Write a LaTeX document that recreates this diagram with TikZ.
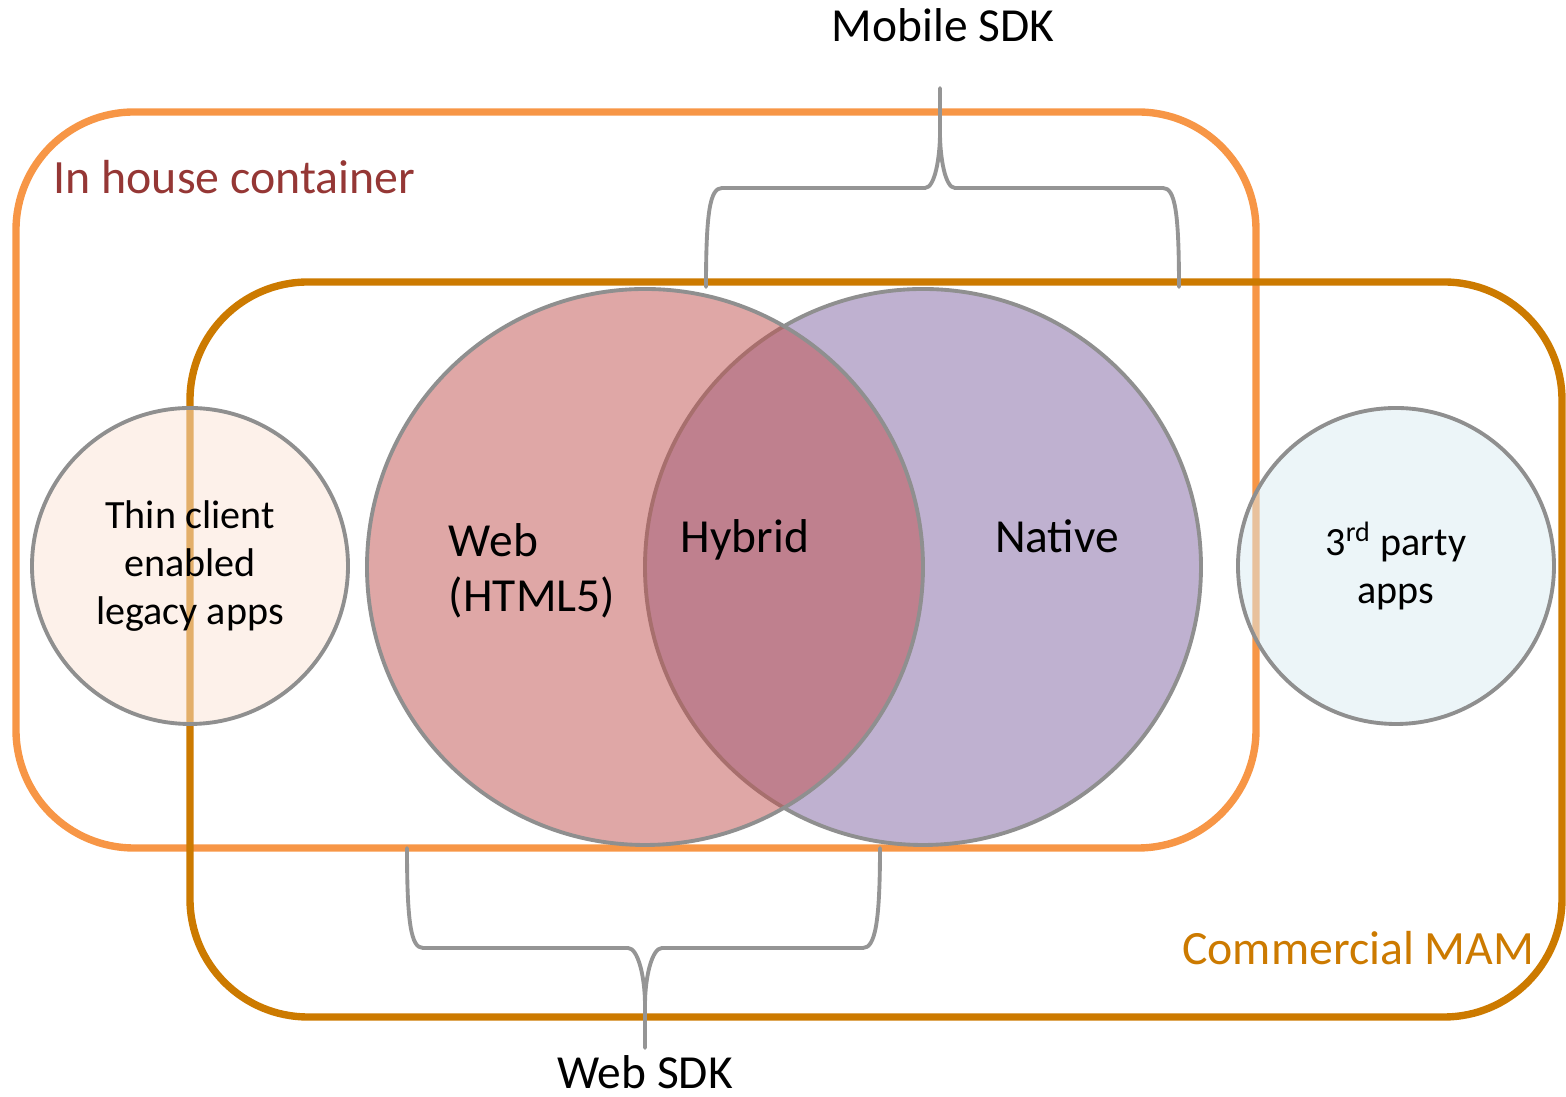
\documentclass[tikz,border=0pt]{standalone}
\usepackage{fontspec}
\setmainfont{Carlito}
\usetikzlibrary{positioning}

\definecolor{houseorange}{HTML}{F79646}
\definecolor{housered}{HTML}{953735}
\definecolor{mamorange}{HTML}{CC7A00}
\definecolor{ringgray}{HTML}{8F8F8F}
\definecolor{bracegray}{HTML}{959595}
\definecolor{webred}{HTML}{C0504D}
\definecolor{nativepurple}{HTML}{8064A2}
\definecolor{thinfill}{HTML}{FBE4D5}
\definecolor{partyfill}{HTML}{DAECF2}

\begin{document}
\begin{tikzpicture}[
    container/.style={line width=2.1pt, rounded corners=1.18cm},
    venn/.style={circle, draw=ringgray, line width=1.1pt, fill opacity=0.5, text opacity=1, draw opacity=1, inner sep=0pt},
    brace/.style={draw=bracegray, line width=1.1pt, line join=round, line cap=round},
    biglabel/.style={font=\fontsize{13.5}{15.6}\selectfont, inner sep=0pt},
    smalllabel/.style={font=\fontsize{11.4}{13.6}\selectfont, align=center, inner sep=0pt},
    boxlabel/.style={font=\fontsize{13.6}{16}\selectfont, inner sep=0pt}
]
\useasboundingbox (0,0) rectangle (15.66,10.97);

% Containers
\draw[container, houseorange] (0.16,2.49) rectangle (12.56,9.85);
\draw[container, mamorange] (1.90,0.80) rectangle (15.62,8.15);

% Side circles
\node[venn, fill=thinfill, minimum size=3.16cm, smalllabel] (thin) at (1.90,5.31)
    {Thin client\\enabled\\legacy apps};
\node[venn, fill=partyfill, minimum size=3.16cm, smalllabel] (party) at (13.96,5.31)
    {3\textsuperscript{rd} party\\apps};

% Venn circles
\node[venn, fill=nativepurple, minimum size=5.56cm] (native) at (9.23,5.30) {};
\node[venn, fill=webred, minimum size=5.56cm] (web) at (6.45,5.30) {};

% Venn labels
\node[biglabel, align=left] (weblabel) at (5.32,5.26) {Web\\(HTML5)};
\node[biglabel, anchor=base] (hybrid) at (7.45,5.44) {Hybrid};
\node[biglabel, anchor=base] (nativelabel) at (10.57,5.44) {Native};

% Container labels
\node[boxlabel, anchor=base west, text=housered] (houselabel) at (0.53,9.03) {In house container};
\node[boxlabel, anchor=base east, text=mamorange] (mamlabel) at (15.35,1.32) {Commercial MAM};

% Braces
\node[biglabel, anchor=base] (mobile) at (9.43,10.55) {Mobile SDK};
\node[biglabel, anchor=base] (websdk) at (6.45,0.08) {Web SDK};
\coordinate (mtip) at (9.40,10.09);
\coordinate (wtip) at (6.45,0.49);

\draw[brace] (7.06,8.10) .. controls (7.06,8.85) and (7.10,9.09) .. (7.22,9.09)
    -- (9.25,9.09) .. controls (9.35,9.09) and (9.40,9.40) .. (9.40,9.64) -- (mtip);
\draw[brace] (9.40,9.64) .. controls (9.40,9.40) and (9.45,9.09) .. (9.55,9.09)
    -- (11.63,9.09) .. controls (11.75,9.09) and (11.79,8.85) .. (11.79,8.10);

\draw[brace] (4.07,2.49) .. controls (4.07,1.74) and (4.11,1.49) .. (4.23,1.49)
    -- (6.28,1.49) .. controls (6.38,1.49) and (6.45,1.20) .. (6.45,0.92) -- (wtip);
\draw[brace] (6.45,0.92) .. controls (6.45,1.20) and (6.52,1.49) .. (6.62,1.49)
    -- (8.63,1.49) .. controls (8.75,1.49) and (8.80,1.74) .. (8.80,2.49);

\end{tikzpicture}
\end{document}
